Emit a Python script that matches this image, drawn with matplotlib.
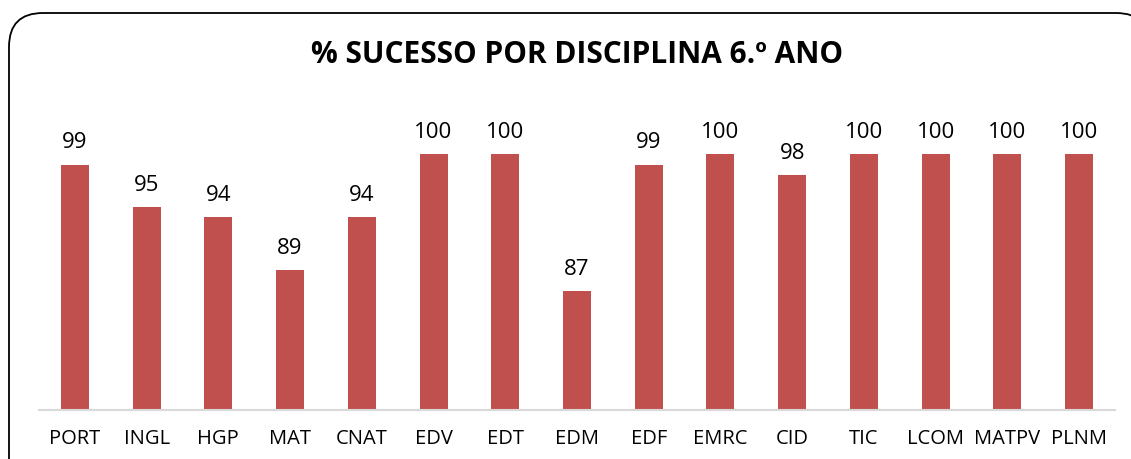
import matplotlib
matplotlib.use("Agg")
import matplotlib.pyplot as plt
from matplotlib.patches import FancyBboxPatch

categories = ["PORT", "INGL", "HGP", "MAT", "CNAT", "EDV", "EDT", "EDM", "EDF",
              "EMRC", "CID", "TIC", "LCOM", "MATPV", "PLNM"]
values = [99, 95, 94, 89, 94, 100, 100, 87, 99, 100, 98, 100, 100, 100, 100]
title = "% SUCESSO POR DISCIPLINA 6.º ANO"

W, H = 1131, 459
fig = plt.figure(figsize=(W / 100, H / 100), dpi=100)
plt.rcParams['font.family'] = ['Open Sans', 'DejaVu Sans']

# rounded frame
frame = FancyBboxPatch((9 / W, -40 / H), (1150 - 9) / W, (459 - 13 + 40) / H,
                       boxstyle="round,pad=0,rounding_size=0.03",
                       transform=fig.transFigure, facecolor="white",
                       edgecolor="black", linewidth=1.3, mutation_aspect=W / H,
                       zorder=-5)
fig.patches.append(frame)

ax_left, ax_right = 39 / W, 1115 / W
ax_bottom = (H - 410) / H
ax_top = 1 - 101.3 / H
ax = fig.add_axes([ax_left, ax_bottom, ax_right - ax_left, ax_top - ax_bottom])
ax.set_facecolor("none")
ax.set_zorder(5)

x = range(len(categories))
bars = ax.bar(x, values, width=0.39, color="#C0504D")
ax.set_xlim(-0.5, len(categories) - 0.5)
ax.set_ylim(75.7, 105)

for xi, v in zip(x, values):
    ax.annotate(str(v), (xi, v), xytext=(0, 8), textcoords="offset points",
                ha="center", va="bottom", fontsize=16, color="black")

ax.set_xticks(list(x))
ax.set_xticklabels(categories, fontsize=14.5)
ax.tick_params(axis="x", length=0, pad=14)
ax.set_yticks([])
for s in ["top", "right", "left"]:
    ax.spines[s].set_visible(False)
ax.spines["bottom"].set_color("#D9D9D9")
ax.spines["bottom"].set_linewidth(1.5)

fig.text(577 / W, 1 - 55 / H, title, ha="center", va="center",
         fontsize=21.5, fontweight="bold", zorder=6)

fig.savefig("out.png", dpi=100)
